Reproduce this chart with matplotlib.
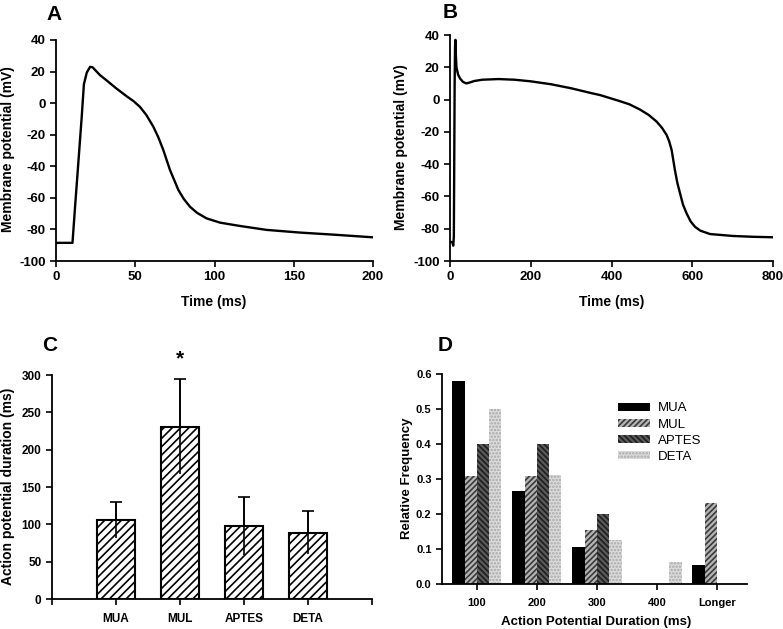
import numpy as np
import matplotlib
matplotlib.use('Agg')
import matplotlib.pyplot as plt

plt.rcParams['font.family'] = ['Liberation Sans', 'DejaVu Sans']
plt.rcParams['font.weight'] = 'bold'
plt.rcParams['axes.labelweight'] = 'bold'
plt.rcParams['axes.unicode_minus'] = False
plt.rcParams['axes.linewidth'] = 1.3
plt.rcParams['xtick.major.width'] = 1.2
plt.rcParams['ytick.major.width'] = 1.2
plt.rcParams['xtick.major.size'] = 4
plt.rcParams['ytick.major.size'] = 4
plt.rcParams['hatch.linewidth'] = 1.2

# panel A: action potential, short
tA = [0, 10.4, 12, 14, 16.2, 17.6, 19.4, 21.5, 23.1, 27.7, 32.9, 38.1, 44.4, 49, 53, 57, 61.4,
      64.5, 67.7, 71.9, 77.2, 80.5, 84.5, 89, 95, 103.5, 116, 132.9, 154, 175, 200]
vA = [-88.5, -88.5, -66, -39, -9, 12, 19.3, 23, 22.7, 17.8, 13.6, 9.3, 4.5, 1.2, -2.4, -7.5, -14.9,
      -21.5, -29.7, -42.3, -55, -60.5, -65.6, -69.5, -73, -75.7, -77.8, -80.3, -82, -83.3, -85]

# panel B: action potential, long
tB = [0, 6, 8, 9.5, 10.5, 11.5, 12.5, 13.5, 14.5, 16, 20, 25, 32, 40, 48, 60, 80, 120, 160, 200,
      250, 300, 350, 371.5, 421, 445, 470.6, 492, 512, 525, 536.7, 543, 549, 557, 563, 569.7,
      577, 586, 596, 606.8, 620, 644, 701, 750, 800]
vB = [-88, -88.5, -90.5, -85, -40, 10, 33, 37, 28, 20, 15.5, 13, 11, 10, 10.5, 11.5, 12.3, 12.7,
      12.3, 11.3, 9.5, 7, 4, 2.8, -1.0, -3.0, -6.2, -9.5, -13.7, -17.5, -22, -26, -31.3, -43.6,
      -51.5, -58, -65, -70.5, -75.5, -78.8, -81.2, -83.3, -84.5, -85, -85.3]

# panel C: mean APD
groups = ['MUA', 'MUL', 'APTES', 'DETA']
apd_mean = [106, 231, 98, 89]
apd_err = [24, 64, 39, 29]

# panel D: APD histogram
bins = ['100', '200', '300', '400', 'Longer']
freq_mua = [0.58, 0.265, 0.105, 0.0, 0.053]
freq_mul = [0.308, 0.308, 0.154, 0.0, 0.231]
freq_aptes = [0.40, 0.40, 0.20, 0.0, 0.0]
freq_deta = [0.50, 0.3125, 0.125, 0.0625, 0.0]

W, H = 783, 629
fig = plt.figure(figsize=(W / 100, H / 100), dpi=100)


def box(l, r, t, b):
    return [l / W, 1 - b / H, (r - l) / W, (b - t) / H]


def style(ax):
    for s in ['top', 'right']:
        ax.spines[s].set_visible(False)
    ax.tick_params(direction='out')


def ptext(x, y, s, **kw):
    fig.text(x / W, 1 - y / H, s, ha='center', va='center', **kw)


# A
ax = fig.add_axes(box(56, 373, 40, 261))
style(ax)
ax.plot(tA, vA, color='black', lw=1.7)
ax.set_xlim(0, 200)
ax.set_ylim(-100, 40)
ax.set_xticks([0, 50, 100, 150, 200])
ax.set_yticks(range(-100, 41, 20))
ax.tick_params(labelsize=9.5)
ptext(214, 302, 'Time (ms)', fontsize=10, fontweight='bold')
ptext(8, 149, 'Membrane potential (mV)', fontsize=10, fontweight='bold', rotation=90)
ptext(54, 15, 'A', fontsize=15, fontweight='bold')

# B
ax = fig.add_axes(box(450, 773, 35, 261))
style(ax)
ax.plot(tB, vB, color='black', lw=1.7)
ax.set_xlim(0, 800)
ax.set_ylim(-100, 40)
ax.set_xticks([0, 200, 400, 600, 800])
ax.set_yticks(range(-100, 41, 20))
ax.tick_params(labelsize=9.5)
ptext(612, 302, 'Time (ms)', fontsize=10, fontweight='bold')
ptext(401, 147, 'Membrane potential (mV)', fontsize=10, fontweight='bold', rotation=90)
ptext(450, 13, 'B', fontsize=15, fontweight='bold')

# C
ax = fig.add_axes(box(52, 372, 375, 599))
style(ax)
xc = np.arange(len(groups))
ax.bar(xc, apd_mean, width=0.6, color='white', edgecolor='black', lw=1.5, hatch='////', zorder=2)
ax.errorbar(xc, apd_mean, yerr=apd_err, fmt='none', ecolor='black', elinewidth=1.2, capsize=0, zorder=3)
ax.errorbar(xc, apd_mean, yerr=[np.zeros(len(groups)), apd_err], fmt='none', ecolor='black',
            elinewidth=1.2, capsize=4, capthick=1.2, zorder=3)
ax.text(1, 321, '*', ha='center', va='center', fontsize=15, fontweight='bold', clip_on=False)
ax.set_xlim(-1, 4)
ax.set_ylim(0, 300)
ax.set_xticks([-1, 0, 1, 2, 3, 4])
ax.set_xticklabels([''] + groups + [''])
ax.set_yticks(range(0, 301, 50))
ax.tick_params(labelsize=8.5)
ax.tick_params(axis='x', pad=6)
ptext(8, 486, 'Action potential duration (ms)', fontsize=10, fontweight='bold', rotation=90)
ptext(50, 345, 'C', fontsize=15, fontweight='bold')

# D
ax = fig.add_axes(box(442, 747, 374, 584))
style(ax)
xd = np.arange(len(bins))
w = 0.205
ax.bar(xd - 1.5 * w, freq_mua, width=w, color='black', lw=0, label='MUA')
ax.bar(xd - 0.5 * w, freq_mul, width=w, color='#b4b4b4', edgecolor='#3a3a3a', lw=0,
       hatch='//////', label='MUL')
ax.bar(xd + 0.5 * w, freq_aptes, width=w, color='#5a5a5a', edgecolor='#1e1e1e', lw=0,
       hatch='\\\\\\\\\\\\', label='APTES')
ax.bar(xd + 1.5 * w, freq_deta, width=w, color='#dcdcdc', edgecolor='#a8a8a8', lw=0,
       hatch='.....', label='DETA')
ax.set_xlim(-0.58, 4.5)
ax.set_ylim(0, 0.6)
ax.set_xticks(xd)
ax.set_xticklabels(bins)
ax.set_yticks(np.arange(0, 0.61, 0.1))
ax.set_yticklabels(['%.1f' % v for v in np.arange(0, 0.61, 0.1)])
ax.tick_params(labelsize=8)
ax.tick_params(axis='x', pad=6)
ax.legend(loc='upper left', bbox_to_anchor=(0.56, 0.89), frameon=False, handlelength=2.4,
          handleheight=0.55, handletextpad=0.6, labelspacing=0.32, borderaxespad=0,
          prop={'family': 'Liberation Sans', 'weight': 'normal', 'size': 9.5})
ptext(596, 622, 'Action Potential Duration (ms)', fontsize=9.5, fontweight='bold')
ptext(407, 478, 'Relative Frequency', fontsize=9.5, fontweight='bold', rotation=90)
ptext(445, 345, 'D', fontsize=15, fontweight='bold')

fig.savefig('out.png', dpi=100)
